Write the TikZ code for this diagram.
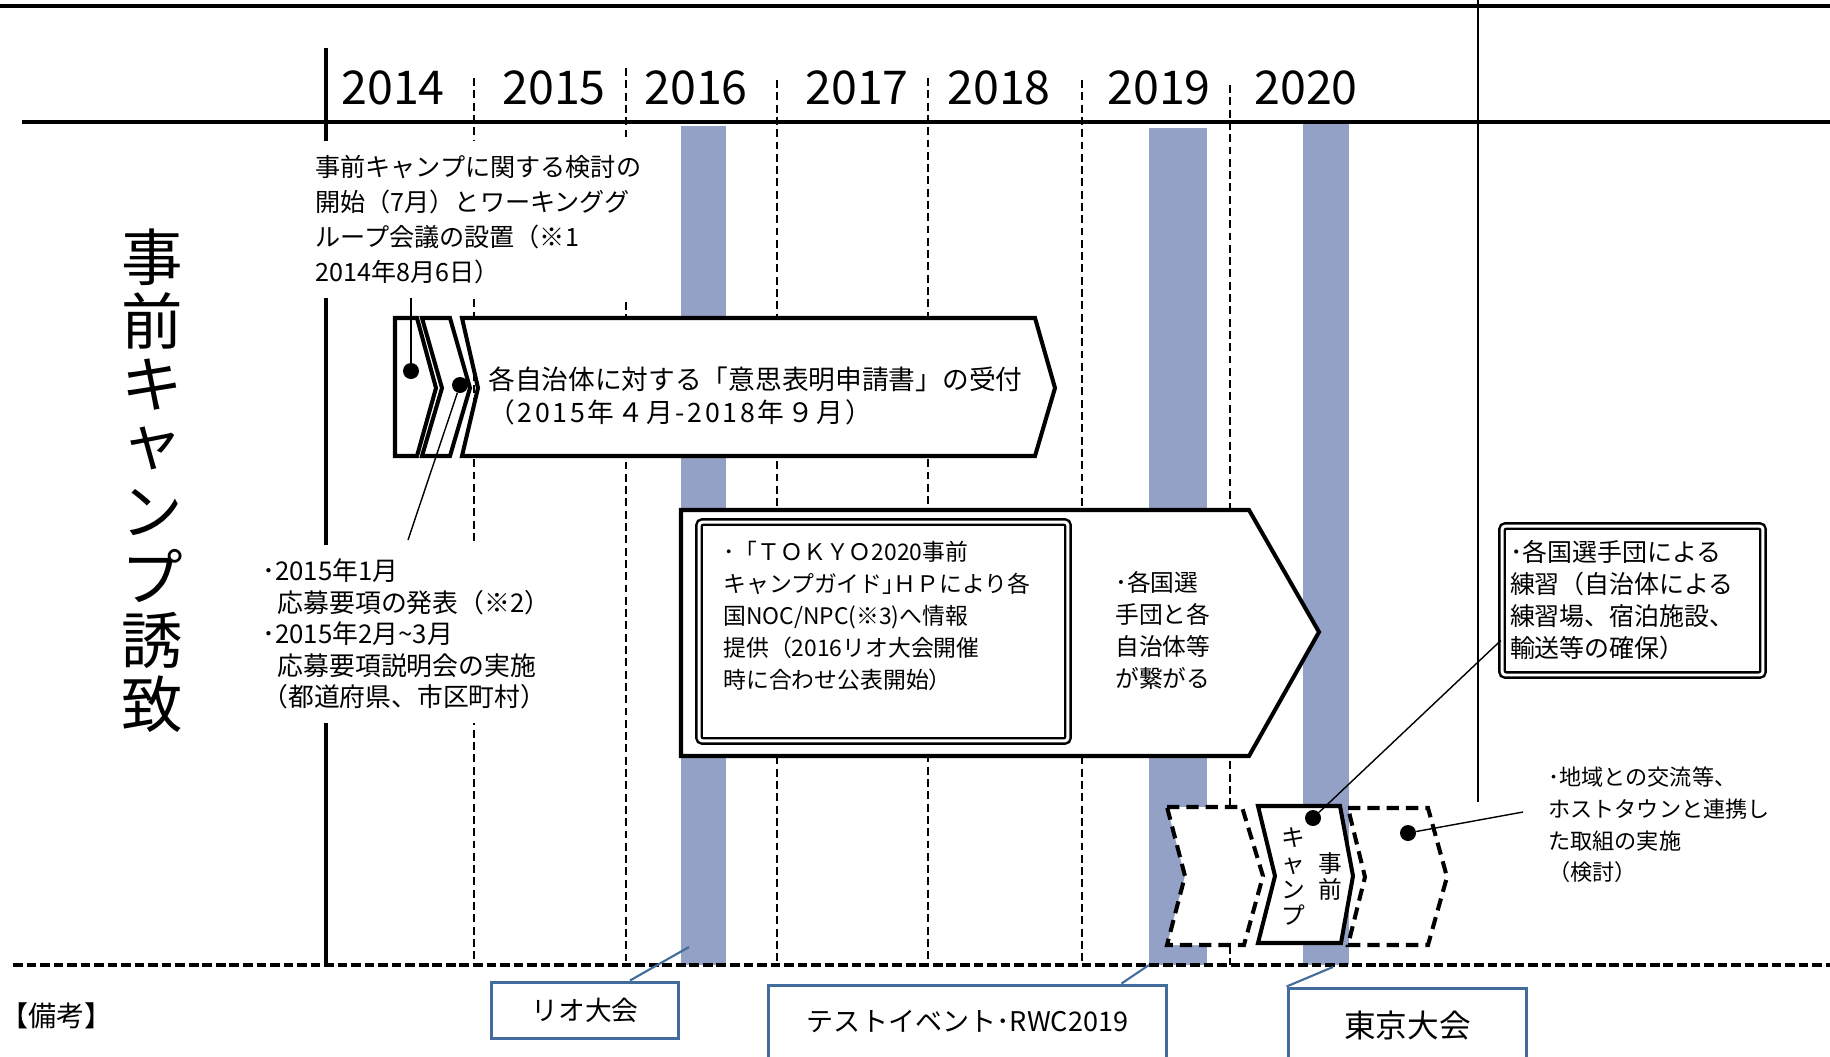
\documentclass[tikz,border=0pt]{standalone}
\usepackage{fontspec}
\setmainfont{Noto Sans CJK JP}
\usetikzlibrary{calc}

\definecolor{barblue}{RGB}{146,161,197}
\definecolor{boxblue}{RGB}{65,108,155}

\tikzset{
  yeardash/.style={dash pattern=on 4.5pt off 2.5pt,line width=0.8pt},
  shp/.style={draw,fill=white,line width=2.3pt,line join=miter},
  dshp/.style={shp,dash pattern=on 7pt off 4pt},
  dblframe/.style={draw,fill=white,double,double distance=1.7pt,line width=1.4pt,rounded corners=2pt},
  note/.style={align=left,inner sep=0pt,fill=white},
  txt/.style={align=left,inner sep=0pt},
  dot/.style={circle,fill,inner sep=0pt,minimum size=0.32cm},
  link/.style={line width=0.8pt},
  remark/.style={draw=boxblue,line width=1.7pt,fill=white,inner sep=0pt},
  bluelink/.style={draw=boxblue,line width=1.2pt}
}

\begin{document}
\begin{tikzpicture}[x=0.02cm,y=-0.02cm]
  \useasboundingbox (0,0) rectangle (1830,1056);

  % games periods
  \fill[barblue] (681,126) rectangle (726,965);
  \fill[barblue] (1149,128) rectangle (1207,965);
  \fill[barblue] (1303,123) rectangle (1349,965);

  % frame
  \draw[line width=2.8pt] (0,6) -- (1830,6);
  \draw[line width=2.3pt] (22,122) -- (1830,122);
  \draw[line width=1.1pt] (1478,0) -- (1478,802);
  \draw[line width=2pt] (326,48) -- (326,965);
  \foreach \xx/\yy in {474/78,626/68,777/80,928/78,1082/80,1230/85}
    \draw[yeardash] (\xx,\yy) -- (\xx,965);
  \draw[line width=2.3pt,dash pattern=on 5.5pt off 2.2pt] (13,965) -- (1830,965);

  % years
  \foreach \yr/\xx in {2014/393,2015/554,2016/696,2017/857,2018/999,2019/1159,2020/1306}
    \node[font=\fontsize{26.5}{28}\selectfont] (y\yr) at (\xx,88) {\yr};

  % title
  \foreach \ch [count=\i from 0] in {事,前,キ,ャ,ン,プ,誘,致}
    \node[font=\fontsize{35}{35}\selectfont,inner sep=0pt] (ttl\i) at (152,257+63.9*\i) {\ch};

  % applications
  \draw[shp] (395,318) -- (417,318) -- (436,388) -- (417,456) -- (395,456) -- cycle;
  \draw[shp] (422,318) -- (450,318) -- (470,388) -- (450,456) -- (422,456) -- (442,388) -- cycle;
  \draw[shp] (462,318) -- (1035,318) -- (1055,388) -- (1035,456) -- (462,456) -- (478,388) -- cycle;
  \node[txt,anchor=west,font=\fontsize{15.2}{19}\selectfont] (accept) at (488,396)
    {各自治体に対する「意思表明申請書」の受付\\{\addfontfeature{LetterSpace=10}（2015年４月-2018年９月）}};

  % guide
  \draw[shp] (681,510) -- (1249,510) -- (1319,632) -- (1249,756) -- (681,756) -- cycle;
  \node[dblframe,minimum width=7.38cm,minimum height=4.38cm] (guidebox) at (883.5,631.5) {};
  \node[txt,anchor=west,font=\fontsize{13}{18.2}\selectfont] (guidetxt) at (723,616)
    {･「ＴＯＫＹＯ2020事前\\キャンプガイド｣ＨＰにより各\\国NOC/NPC(※3)へ情報\\提供（2016リオ大会開催\\時に合わせ公表開始）};
  \node[txt,anchor=west,font=\fontsize{13.5}{18.2}\selectfont] (match) at (1115,630)
    {･各国選\\手団と各\\自治体等\\が繋がる};

  % camps
  \draw[dshp] (1167,807) -- (1242,807) -- (1263,876) -- (1244,945) -- (1167,945) -- (1185,876) -- cycle;
  \draw[shp] (1258,806) -- (1340,806) -- (1353,876) -- (1341,943) -- (1258,943) -- (1275,876) -- cycle;
  \draw[dshp] (1348,808) -- (1428,808) -- (1447,877) -- (1428,945) -- (1348,945) -- (1365,877) -- cycle;
  \node[txt,align=center,font=\fontsize{13.5}{14.8}\selectfont] (camp1) at (1330,876) {事\\前};
  \node[txt,align=center,font=\fontsize{13.5}{14.8}\selectfont] (camp2) at (1293,877) {キ\\ャ\\ン\\プ};

  \node[dblframe,minimum width=5.22cm,minimum height=2.98cm,text width=4.9cm,align=left,inner sep=0pt,
    font=\fontsize{14.2}{18.2}\selectfont] (practice) at (1632.5,600.5)
    {･各国選手団による\\練習（自治体による\\練習場、宿泊施設、\\輸送等の確保）};
  \node[txt,anchor=west,font=\fontsize{12.6}{18}\selectfont] (local) at (1548,825)
    {･地域との交流等、\\ホストタウンと連携し\\た取組の実施\\（検討）};

  % notes
  \node[note,anchor=west,inner ysep=8pt,font=\fontsize{14.3}{19.9}\selectfont] (study) at (315,219.5)
    {事前キャンプに関する検討の\\開始（7月）とワーキンググ\\ループ会議の設置（※1\\2014年8月6日）};
  \node[note,anchor=west,inner ysep=8pt,font=\fontsize{14.7}{17.9}\selectfont] (apply) at (262,634)
    {･2015年1月\\\hspace*{0.6em}応募要項の発表（※2）\\･2015年2月\textasciitilde3月\\\hspace*{0.6em}応募要項説明会の実施\\（都道府県、市区町村）};

  \node[dot] (d1) at (411,371) {};
  \node[dot] (d2) at (460,385) {};
  \node[dot] (d3) at (1313,818) {};
  \node[dot] (d4) at (1408,833) {};
  \coordinate (c2) at (408,540);
  \coordinate (c4) at (1523,812);
  \draw[link] (d1) -- (d1 |- study.south);
  \draw[link] (d2) -- (c2);
  \draw[link] (d3) -- ([yshift=-0.8cm]practice.west);
  \draw[link] (d4) -- (c4);

  % remarks
  \node[anchor=west,inner sep=0pt,font=\fontsize{16}{18}\selectfont] (biko) at (0,1016) {【備考】};
  \node[remark,minimum width=3.76cm,minimum height=1.12cm,font=\fontsize{15.2}{16}\selectfont] (rio) at (585,1010) {リオ大会};
  \node[remark,minimum width=7.98cm,minimum height=1.48cm,font=\fontsize{15.4}{16}\selectfont] (test) at (967.5,1022) {テストイベント･RWC2019};
  \node[remark,minimum width=4.78cm,minimum height=1.48cm,font=\fontsize{18}{20}\selectfont] (tokyo) at (1407.5,1025) {東京大会};
  \coordinate (rioend) at (689,947);
  \coordinate (testend) at (1149,965);
  \coordinate (tokyoend) at (1333,967);
  \draw[bluelink] ([xshift=0.9cm]rio.north) -- (rioend);
  \draw[bluelink] ([xshift=-0.94cm]test.north east) -- (testend);
  \draw[bluelink] (tokyo.north west) -- (tokyoend);
\end{tikzpicture}
\end{document}
